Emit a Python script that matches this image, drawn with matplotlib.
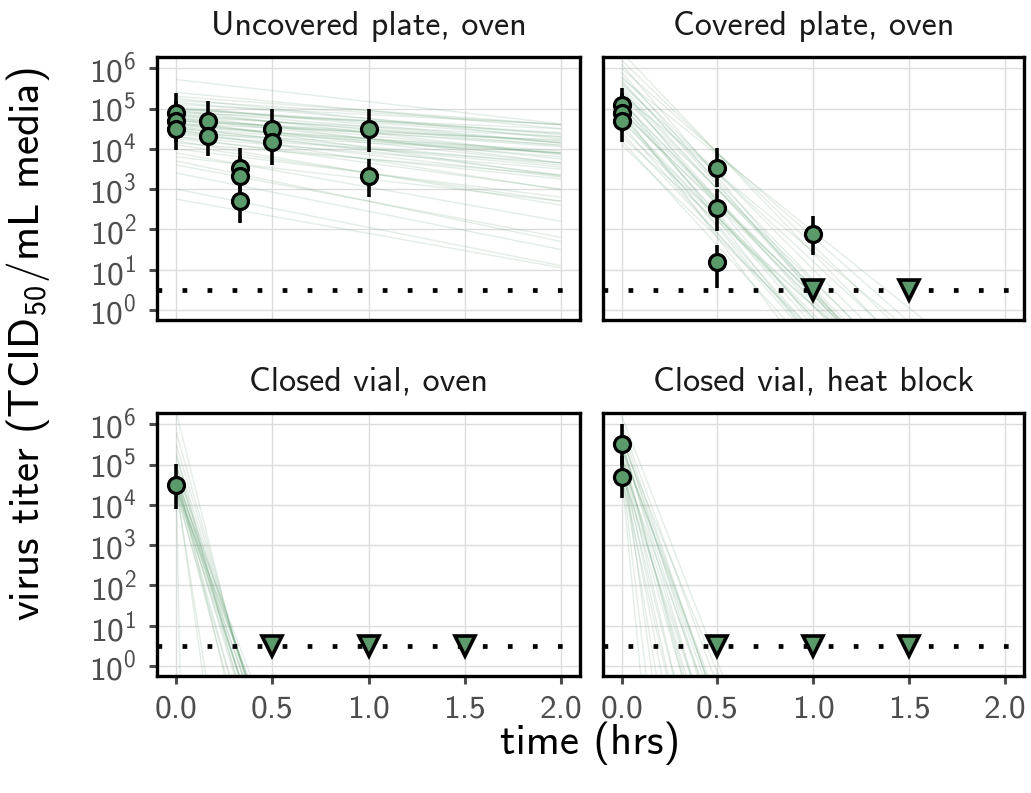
import matplotlib
matplotlib.use("Agg")
import matplotlib.pyplot as plt
import numpy as np
from matplotlib.ticker import NullLocator, FixedLocator

plt.rcParams['font.family'] = ['cmss10', 'DejaVu Sans']
plt.rcParams['mathtext.fontset'] = 'custom'
plt.rcParams['mathtext.rm'] = 'cmss10'
plt.rcParams['mathtext.it'] = 'cmss10'
plt.rcParams['mathtext.bf'] = 'cmss10'
plt.rcParams['axes.unicode_minus'] = False

# ---------------- data ----------------
panel_titles = ["Uncovered plate, oven", "Covered plate, oven",
                "Closed vial, oven", "Closed vial, heat block"]
x_ticks = [0.0, 0.5, 1.0, 1.5, 2.0]
x_tick_labels = ["0.0", "0.5", "1.0", "1.5", "2.0"]
y_tick_exponents = [0, 1, 2, 3, 4, 5, 6]
lod_log10 = 0.5  # detection limit (log10 TCID50/mL)

# observed titers (log10), with error bar ends (log10)
obs_x = {
    0: [0.0, 0.0, 0.0, 0.1667, 0.1667, 0.3333, 0.3333, 0.3333, 0.5, 0.5, 1.0, 1.0],
    1: [0.0, 0.0, 0.0, 0.5, 0.5, 0.5, 1.0],
    2: [0.0],
    3: [0.0, 0.0],
}
obs_y = {
    0: [4.90, 4.68, 4.48, 4.69, 4.33, 3.52, 3.33, 2.71, 4.49, 4.16, 4.49, 3.33],
    1: [5.08, 4.90, 4.70, 3.52, 2.52, 1.19, 1.89],
    2: [4.50],
    3: [5.50, 4.70],
}
obs_lo = {
    0: [4.40, 4.18, 3.97, 4.19, 3.82, 3.02, 2.83, 2.17, 3.99, 3.61, 3.93, 2.81],
    1: [4.60, 4.42, 4.16, 3.05, 1.95, 0.54, 1.36],
    2: [3.90],
    3: [5.00, 4.16],
}
obs_hi = {
    0: [5.39, 5.18, 4.98, 5.19, 4.83, 4.01, 3.83, 3.21, 5.00, 4.66, 5.00, 3.74],
    1: [5.50, 5.38, 5.20, 4.03, 3.00, 1.61, 2.34],
    2: [5.01],
    3: [6.00, 5.20],
}
# below-detection observations (plotted at the detection limit)
nd_x = {0: [], 1: [1.0, 1.5], 2: [0.5, 1.0, 1.5], 3: [0.5, 1.0, 1.5]}

# posterior regression lines: log10 intercept and slope (per hr)
line_int = {
    0: [5.72, 5.40, 5.30, 5.25, 5.20, 5.15, 5.10, 5.05, 5.00, 4.98, 4.95, 4.90, 4.88, 4.85,
        4.80, 4.78, 4.75, 4.72, 4.70, 4.65, 4.62, 4.60, 4.55, 4.50, 4.48, 4.45, 4.40, 4.35,
        4.30, 4.25, 4.20, 4.15, 4.10, 4.00, 3.90, 3.80, 3.70, 3.60, 3.40, 3.00, 2.75,
        5.00, 4.85, 4.70, 4.55, 4.40, 4.95, 4.60, 4.75, 4.30, 4.50],
    1: [6.40, 6.20, 6.00, 5.90, 5.80, 5.70, 5.60, 5.50, 5.45, 5.40, 5.30, 5.25, 5.20, 5.10,
        5.05, 5.00, 4.95, 4.90, 4.85, 4.80, 4.70, 4.60, 4.50, 4.40, 4.30, 4.20, 4.10, 5.75,
        5.35, 6.10, 5.55, 5.15, 4.75, 5.65, 4.95],
    2: [6.30, 5.80, 5.50, 5.20, 5.00, 4.90, 4.80, 4.70, 4.60, 4.55, 4.50, 4.50, 4.45, 4.40,
        4.40, 4.35, 4.30, 4.60, 5.00, 4.50, 4.40, 4.50, 4.80, 5.30, 4.65, 4.45, 4.75],
    3: [6.20, 6.00, 5.90, 5.80, 5.70, 5.60, 5.50, 5.45, 5.40, 5.30, 5.25, 5.20, 5.10, 5.05,
        5.00, 4.95, 4.90, 4.85, 4.80, 4.75, 4.70, 5.60, 5.35, 4.90, 5.50, 5.15, 5.40],
}
line_slope = {
    0: [-0.55, -0.45, -0.35, -0.50, -0.30, -0.40, -0.25, -0.45, -0.35, -0.30, -0.55, -0.20,
        -0.40, -0.60, -0.25, -0.45, -0.35, -0.70, -0.30, -0.50, -0.20, -0.40, -0.60, -0.30,
        -0.75, -0.45, -0.55, -0.35, -0.65, -0.50, -0.80, -0.40, -0.70, -0.60, -0.85, -0.55,
        -1.00, -0.90, -0.95, -0.95, -0.85,
        -0.30, -0.35, -0.25, -0.30, -0.25, -0.40, -0.35, -0.50, -0.40, -0.45],
    1: [-5.0, -4.6, -4.2, -5.5, -4.8, -5.2, -4.4, -5.8, -4.9, -5.3, -4.6, -6.0, -5.0, -5.5,
        -4.7, -5.2, -6.3, -4.5, -5.6, -5.0, -4.8, -5.4, -4.4, -5.0, -4.2, -5.2, -4.6, -3.8,
        -3.9, -5.6, -5.1, -4.8, -5.3, -4.9, -4.7],
    2: [-19.0, -17.0, -16.0, -15.0, -14.5, -14.0, -15.5, -13.5, -16.0, -14.5, -17.0, -13.0,
        -15.0, -18.0, -12.5, -14.0, -16.5, -12.5, -16.0, -34.0, -30.0, -240.0, -20.0, -18.0,
        -15.0, -13.5, -14.5],
    3: [-12.2, -13.0, -14.0, -15.0, -13.5, -16.0, -14.5, -18.0, -12.5, -17.0, -20.0, -15.0,
        -22.0, -13.0, -25.0, -16.5, -19.0, -28.0, -14.0, -50.0, -21.0, -11.5, -35.0, -40.0,
        -13.5, -16.0, -12.8],
}

# ---------------- styling ----------------
point_fill = "#5b9a6b"
line_color = "#5b9a6b"
grid_color = "#dcdcdc"
tick_color = "#4d4d4d"

fig = plt.figure(figsize=(10.31, 7.93), dpi=100)
W, H = 1031, 793
boxes = [
    (157, 57, 580, 320),
    (602.5, 57, 1024, 320),
    (157, 413, 580, 676),
    (602.5, 413, 1024, 676),
]
axes = []
for (x0, y0, x1, y1) in boxes:
    ax = fig.add_axes([x0 / W, 1 - y1 / H, (x1 - x0) / W, (y1 - y0) / H])
    axes.append(ax)

t_grid = np.linspace(0, 2.0, 400)
for k, ax in enumerate(axes):
    ax.set_yscale('log')
    ax.set_xlim(-0.1, 2.1)
    ax.set_ylim(10 ** -0.25, 10 ** 6.28)
    # regression lines
    for b0, b1 in zip(line_int[k], line_slope[k]):
        ax.plot(t_grid, 10 ** (b0 + b1 * t_grid), color=line_color, alpha=0.17,
                lw=1.0, zorder=2, solid_capstyle='butt')
    # detection limit
    ax.axhline(10 ** lod_log10, color='black', lw=3.4, ls=(0, (1, 4.3)),
               dash_capstyle='butt', zorder=3)
    # error bars
    for xv, lo, hi in zip(obs_x[k], obs_lo[k], obs_hi[k]):
        ax.plot([xv, xv], [10 ** lo, 10 ** hi], color='black', lw=2.6, zorder=4,
                solid_capstyle='butt')
    ax.plot(obs_x[k], [10 ** v for v in obs_y[k]], ls='none', marker='o', ms=11.5,
            mfc=point_fill, mec='black', mew=2.3, zorder=5)
    if nd_x[k]:
        ax.plot(nd_x[k], [10 ** lod_log10] * len(nd_x[k]), ls='none', marker='v', ms=15,
                mfc=point_fill, mec='black', mew=2.6, zorder=5)

    ax.yaxis.set_major_locator(FixedLocator([10.0 ** e for e in y_tick_exponents]))
    ax.yaxis.set_minor_locator(NullLocator())
    ax.xaxis.set_major_locator(FixedLocator(x_ticks))
    ax.grid(True, which='major', color=grid_color, lw=1.0, zorder=0)
    ax.set_axisbelow(True)
    for s in ax.spines.values():
        s.set_linewidth(2.4)
        s.set_color('black')
    ax.tick_params(axis='both', colors=tick_color, length=5.5, width=2.2, labelsize=24)
    ax.tick_params(axis='y', pad=9)
    ax.tick_params(axis='x', pad=8)
    ax.set_title(panel_titles[k], fontsize=24.5, color='#1a1a1a', pad=16)
    if k in (0, 2):
        ax.set_yticklabels([r"$\mathdefault{10^{%d}}$" % e for e in y_tick_exponents])
    else:
        ax.tick_params(axis='y', length=0, labelleft=False)
    if k in (2, 3):
        ax.set_xticklabels(x_tick_labels)
    else:
        ax.tick_params(axis='x', length=0, labelbottom=False)

fig.text(590 / W, 1 - 743 / H, "time (hrs)", ha='center', va='center', fontsize=31,
         color='black')
fig.text(28 / W, 1 - 344 / H, r"virus titer (TCID$_{50}$/mL media)", ha='center',
         va='center', rotation=90, fontsize=31, color='black')

fig.savefig("out.png", dpi=100)
